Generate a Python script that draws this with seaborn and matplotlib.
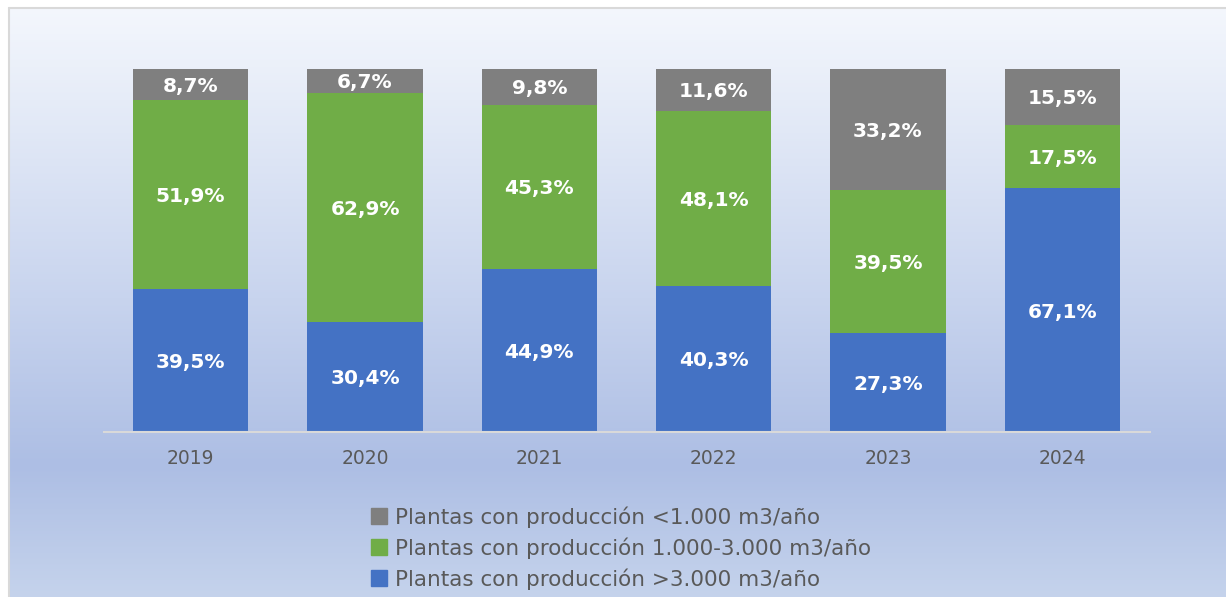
import numpy as np
import matplotlib
matplotlib.use("Agg")
import matplotlib.pyplot as plt
import seaborn as sns
from matplotlib.lines import Line2D

# data
years = ["2019", "2020", "2021", "2022", "2023", "2024"]
grandes = [39.5, 30.4, 44.9, 40.3, 27.3, 67.1]     # >3.000 m3/año
medianas = [51.9, 62.9, 45.3, 48.1, 39.5, 17.5]    # 1.000-3.000 m3/año
pequenas = [8.7, 6.7, 9.8, 11.6, 33.2, 15.5]       # <1.000 m3/año
series_names = ["Plantas con producción >3.000 m3/año",
                "Plantas con producción 1.000-3.000 m3/año",
                "Plantas con producción <1.000 m3/año"]
colors = ["#4472C4", "#70AD47", "#7F7F7F"]

sns.set_style("white")
plt.rcParams['font.family'] = ['DejaVu Sans']

fig = plt.figure(figsize=(12.26, 5.97), dpi=100)

# gradient background
bg = fig.add_axes([0, 0, 1, 1], zorder=-10)
stops = np.array([0.0, 0.5, 0.78, 1.0])
cols = np.array([[245, 248, 253], [200, 212, 238], [173, 190, 228], [197, 211, 236]]) / 255
yy = np.linspace(0, 1, 600)
grad = np.stack([np.interp(yy, stops, cols[:, i]) for i in range(3)], axis=1)
bg.imshow(grad[:, None, :], aspect="auto", extent=[0, 1, 0, 1], origin="upper")
bg.set_xlim(0, 1)
bg.set_ylim(0, 1)
# white margin at top/left with grey frame
bg.axhspan(1 - 8 / 597, 1, color="white", lw=0)
bg.axvspan(0, 9 / 1226, color="white", lw=0)
bg.plot([9 / 1226, 1], [1 - 8 / 597] * 2, color="#D9D9D9", lw=1.5)
bg.plot([9 / 1226] * 2, [0, 1 - 8 / 597], color="#D9D9D9", lw=1.5)
bg.axis("off")

ax = fig.add_axes([103.5 / 1226, (597 - 432) / 597, 1046 / 1226, 363 / 597])
ax.patch.set_alpha(0)

bottom = np.zeros(len(years))
for vals, col in zip([grandes, medianas, pequenas], colors):
    sns.barplot(x=years, y=vals, bottom=bottom, color=col, width=0.66,
                saturation=1, edgecolor="none", ax=ax)
    for i, v in enumerate(vals):
        ax.text(i, bottom[i] + v / 2 - 0.5, f"{v:.1f}%".replace(".", ","),
                ha="center", va="center", color="white",
                fontsize=14.5, fontweight="bold")
    bottom += np.array(vals)

ax.set_xlim(-0.5, 5.5)
ax.set_ylim(0, 100)
ax.set_yticks([])
ax.set_ylabel("")
for s in ["top", "right", "left"]:
    ax.spines[s].set_visible(False)
ax.spines["bottom"].set_color("#D9D9D9")
ax.spines["bottom"].set_linewidth(1.5)
ax.tick_params(axis="x", length=0, pad=12, labelsize=13.5, labelcolor="#595959")

handles = [Line2D([], [], marker="s", ls="none", markersize=11, color=colors[i])
           for i in [2, 1, 0]]
labels = [series_names[i] for i in [2, 1, 0]]
fig.legend(handles, labels, loc="center left", bbox_to_anchor=(350 / 1226, 1 - 548 / 597),
           frameon=False, fontsize=15.5, labelcolor="#595959", handletextpad=0.3,
           labelspacing=0.45, handlelength=0.9)

fig.savefig("out.png", dpi=100)
